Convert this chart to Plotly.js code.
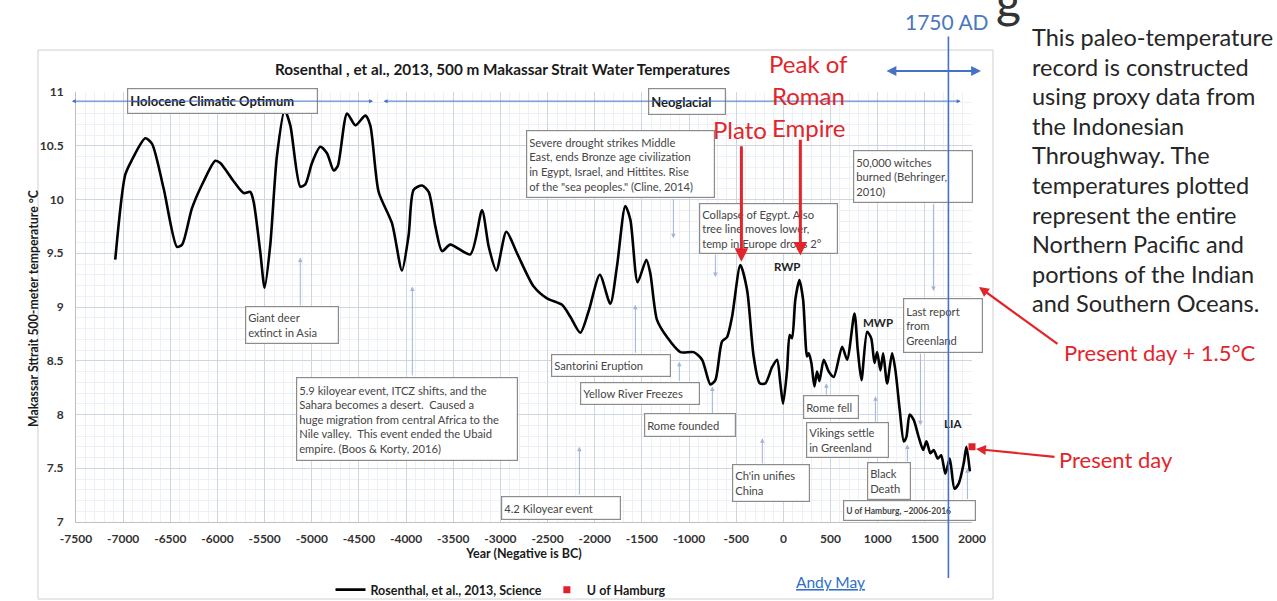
<!DOCTYPE html>
<html>
<head>
<meta charset="utf-8">
<script src="https://cdn.plot.ly/plotly-3.0.1.min.js"></script>
<style>html,body{margin:0;padding:0;background:#fff;}#chart{width:1277px;height:601px;}</style>
</head>
<body>
<div id="chart"></div>
<script>
// ---------------- DATA ----------------
const years = [-7084,-6978,-6906,-6766,-6695,-6570,-6429,-6375,-6270,-6146,-6023,-5970,-5829,-5723,-5652,-5617,-5546,-5500,-5440,-5369,-5287,-5228,-5122,-5069,-4998,-4910,-4839,-4768,-4725,-4626,-4538,-4432,-4380,-4291,-4150,-4044,-3973,-3920,-3832,-3761,-3690,-3619,-3531,-3319,-3195,-3124,-3043,-2937,-2824,-2647,-2506,-2347,-2259,-2153,-2065,-1946,-1835,-1764,-1676,-1622,-1545,-1453,-1410,-1340,-1234,-1092,-951,-862,-774,-721,-650,-597,-544,-456,-385,-315,-251,-191,-120,-67,-32,-3,39,67,92,127,170,209,251,269,297,329,357,382,428,481,534,623,676,754,789,828,888,931,966,994,1029,1058,1100,1153,1188,1234,1277,1304,1339,1382,1435,1482,1517,1559,1594,1637,1673,1718,1764,1814,1860,1913,1941,1977];
const temps = [9.44,10.23,10.37,10.57,10.52,10.10,9.56,9.58,9.92,10.17,10.36,10.34,10.17,10.06,10.07,9.98,9.51,9.18,9.58,10.41,10.83,10.69,10.12,10.14,10.34,10.49,10.43,10.27,10.31,10.80,10.69,10.78,10.69,10.07,9.78,9.34,9.67,10.09,10.13,10.07,9.75,9.52,9.58,9.49,9.90,9.56,9.34,9.70,9.50,9.19,9.08,9.02,8.91,8.76,8.96,9.30,9.03,9.38,9.94,9.81,9.23,9.44,9.31,8.88,8.72,8.58,8.58,8.51,8.28,8.32,8.68,8.72,8.91,9.39,9.16,8.54,8.29,8.29,8.44,8.51,8.29,8.10,8.41,8.74,8.71,9.07,9.25,9.07,8.54,8.57,8.48,8.26,8.40,8.31,8.51,8.40,8.35,8.63,8.51,8.94,8.60,8.32,8.77,8.71,8.48,8.58,8.41,8.57,8.29,8.57,8.41,8.04,7.75,7.79,8.00,7.95,7.79,7.67,7.75,7.64,7.67,7.59,7.62,7.45,7.59,7.31,7.36,7.55,7.70,7.47];
const hamburgYears = [2000];
const hamburgTemps = [7.70];
const seriesNames = ['Rosenthal, et al., 2013, Science', 'U of Hamburg'];
const xTickVals = [-7500,-7000,-6500,-6000,-5500,-5000,-4500,-4000,-3500,-3000,-2500,-2000,-1500,-1000,-500,0,500,1000,1500,2000];
const xTickText = ['-7500','-7000','-6500','-6000','-5500','-5000','-4500','-4000','-3500','-3000','-2500','-2000','-1500','-1000','-500','0','500','1000','1500','2000'];
const yTickVals = [7,7.5,8,8.5,9,9.5,10,10.5,11];
const yTickText = ['7','7.5','8','8.5','9','9.5','10','10.5','11'];
const chartTitle = 'Rosenthal , et al., 2013, 500 m Makassar Strait Water Temperatures';
const xTitle = 'Year (Negative is BC)';
const yTitle = 'Makassar Sttrait 500-meter temperature °C';
const sideLines = ['This paleo-temperature','record is constructed','using proxy data from','the Indonesian','Throughway. The','temperatures plotted','represent the entire','Northern Pacific and','portions of the Indian','and Southern Oceans.'];

// ---------------- LAYOUT HELPERS ----------------
const L = 76, R = 972, T = 92, B = 522;
const PX = p => (p - L) / (R - L);
const PY = p => (B - p) / (B - T);
const FONT = 'Lato, "Open Sans", sans-serif';
const RED = '#e2252b', BLUE = '#4472c4', ARW = '#9fb4d6';

const ann = [];
function paperText(px, py, text, font, xanchor, angle) {
  ann.push({xref:'paper', yref:'paper', x:PX(px), y:PY(py), xanchor:xanchor||'center', yanchor:'middle', text:text, showarrow:false, font:font, textangle:angle||0});
}
// event boxes (data coords: year, temperature)
const boxes = [
  {t:'<b>Holocene Climatic Optimum</b>', x:-5944, y:10.92, w:191, h:25, bold:true},
  {t:'<b>Neoglacial</b>', x:-1018, y:10.91, w:78, h:26, bold:true},
  {t:'Severe drought strikes Middle<br>East, ends Bronze age civilization<br>in Egypt, Israel, and Hittites. Rise<br>of the "sea peoples." (Cline, 2014)', x:-1723, y:10.33, w:189, h:67},
  {t:'Collapse of Egypt. Also<br>tree line moves lower,<br>temp in Europe drops 2°', x:-154, y:9.73, w:139, h:50},
  {t:'50,000 witches<br>burned (Behringer,<br>2010)', x:1379, y:10.21, w:120, h:52},
  {t:'Last report<br>from<br>Greenland', x:1697, y:8.83, w:80, h:54},
  {t:'Giant deer<br>extinct in Asia', x:-5207, y:8.83, w:94, h:37},
  {t:'5.9 kiloyear event, ITCZ shifts, and the<br>Sahara becomes a desert.  Caused a<br>huge migration from central Africa to the<br>Nile valley.  This event ended the Ubaid<br>empire. (Boos &amp; Korty, 2016)', x:-3987, y:7.96, w:222, h:83},
  {t:'Santorini Eruption', x:-1824, y:8.46, w:120, h:22},
  {t:'Yellow River Freezes', x:-1516, y:8.20, w:120, h:22},
  {t:'Rome founded', x:-986, y:7.90, w:92, h:23},
  {t:'4.2 Kiloyear event', x:-2354, y:7.13, w:120, h:23},
  {t:'Ch\'in unifies<br>China', x:-127, y:7.36, w:78, h:37},
  {t:'Rome fell', x:509, y:8.07, w:56, h:23},
  {t:'Vikings settle<br>in Greenland', x:684, y:7.76, w:83, h:35},
  {t:'Black<br>Death', x:1124, y:7.38, w:44, h:37},
  {t:'<b>U of Hamburg, ~2006-2016</b>', x:1341, y:7.11, w:133, h:20, small:true}
];
boxes.forEach(b => ann.push({
  xref:'x', yref:'y', x:b.x, y:b.y, xanchor:'center', yanchor:'middle', text:b.t, showarrow:false,
  width:b.w-6, height:b.h-5, align:'left', valign:'middle',
  bordercolor:'#8c8c8c', borderwidth:1.2, borderpad:2, bgcolor:'#ffffff',
  font:{family:FONT, size:b.bold?13:(b.small?8.5:11.2), color:b.bold?'#1a1a1a':'#454545'}
}));
// thin event arrows: [year, tailTemp, headTemp]
const arrows = [[-1166,10.02,9.64],[-721,9.50,9.28],[1591,9.97,9.15],[1453,8.58,7.90],[-5122,9.0,9.46],[-3934,8.35,9.19],[-1569,8.56,9.02],[-1103,8.30,8.49],[-753,8.0,8.26],[-2163,7.24,7.70],[-223,7.53,7.78],[456,8.17,8.29],[976,7.92,8.17],[1315,7.55,7.72],[1951,7.20,7.50]];
arrows.forEach(a => ann.push({xref:'x', yref:'y', axref:'x', ayref:'y', x:a[0], y:a[2], ax:a[0], ay:a[1], text:'', showarrow:true, arrowhead:2, arrowsize:0.9, arrowwidth:1, arrowcolor:ARW}));
// period arrows (Holocene / Neoglacial)
ann.push({xref:'x', yref:'y', axref:'x', ayref:'y', x:-4350, y:10.915, ax:-7560, ay:10.915, text:'', showarrow:true, arrowhead:2, startarrowhead:2, arrowside:'end+start', arrowsize:0.8, arrowwidth:1, arrowcolor:BLUE});
ann.push({xref:'x', yref:'y', axref:'x', ayref:'y', x:1880, y:10.915, ax:-4255, ay:10.915, text:'', showarrow:true, arrowhead:2, startarrowhead:2, arrowside:'end+start', arrowsize:0.8, arrowwidth:1, arrowcolor:BLUE});
// period labels on curve
[['RWP',42,9.38],['MWP',1007,8.86],['LIA',1803,7.92]].forEach(p => ann.push({xref:'x', yref:'y', x:p[1], y:p[2], xanchor:'center', yanchor:'middle', text:'<b>'+p[0]+'</b>', showarrow:false, font:{family:FONT, size:11.5, color:'#222'}}));
// 1750 AD line drawn above boxes
ann.push({xref:'x', yref:'paper', x:1750, y:PY(578), ax:0, ay:-543, text:'', showarrow:true, arrowhead:0, arrowwidth:1.6, arrowcolor:BLUE});
paperText(947, 22, '1750 AD', {family:FONT, size:21, color:'#4a78c0'});
ann.push({xref:'paper', yref:'paper', x:PX(981), y:PY(71), ax:-96, ay:0, text:'', showarrow:true, arrowhead:2, startarrowhead:2, arrowside:'end+start', arrowsize:0.9, arrowwidth:2.2, arrowcolor:BLUE});
// red labels & arrows
[['Peak of',64],['Roman',96],['Empire',127]].forEach(r => paperText(808, r[1], r[0], {family:FONT, size:24, color:RED}));
paperText(740, 130, 'Plato', {family:FONT, size:24, color:RED});
ann.push({xref:'x', yref:'y', axref:'x', ayref:'y', x:-445, y:9.42, ax:-445, ay:10.51, text:'', showarrow:true, arrowhead:2, arrowsize:0.9, arrowwidth:3, arrowcolor:RED});
ann.push({xref:'x', yref:'y', axref:'x', ayref:'y', x:180, y:9.48, ax:180, ay:10.57, text:'', showarrow:true, arrowhead:2, arrowsize:0.9, arrowwidth:3, arrowcolor:RED});
// right-hand text
sideLines.forEach((s,i) => paperText(1030, 37 + i*29.6, s, {family:FONT, size:23.5, color:'#262626'}, 'left'));
paperText(1062, 352, 'Present day + 1.5°C', {family:FONT, size:22, color:RED}, 'left');
paperText(1057, 459, 'Present day', {family:FONT, size:22, color:RED}, 'left');
ann.push({xref:'paper', yref:'paper', x:PX(979), y:PY(287), ax:80, ay:58, text:'', showarrow:true, arrowhead:2, arrowsize:0.9, arrowwidth:2.2, arrowcolor:RED});
ann.push({xref:'paper', yref:'paper', x:PX(976), y:PY(449), ax:80, ay:8, text:'', showarrow:true, arrowhead:2, arrowsize:0.9, arrowwidth:2.2, arrowcolor:RED});
// chart texts
paperText(502, 69, '<b>'+chartTitle+'</b>', {family:FONT, size:15.3, color:'#1a1a1a'});
paperText(33, 309, '<b>'+yTitle+'</b>', {family:FONT, size:12.3, color:'#1a1a1a'}, 'center', -90);
paperText(830, 582, '<u>Andy May</u>', {family:FONT, size:15.5, color:'#2f6fc8'});
paperText(1008, 0, 'g', {family:FONT, size:48, color:'#333'});

const traces = [
  {x:years, y:temps, name:seriesNames[0], type:'scatter', mode:'lines', line:{color:'#000', width:2.6, shape:'spline', smoothing:0.7}, cliponaxis:false},
  {x:hamburgYears, y:hamburgTemps, name:seriesNames[1], type:'scatter', mode:'markers', marker:{color:'#e0202a', symbol:'square', size:7}, cliponaxis:false}
];

const layout = {
  width:1277, height:601,
  margin:{l:L, r:1277-R, t:T, b:601-B, autoexpand:false},
  paper_bgcolor:'#fff', plot_bgcolor:'#fff',
  font:{family:FONT},
  xaxis:{range:[-7500,2000], tickvals:xTickVals, ticktext:xTickText, showgrid:true, gridcolor:'#cdd7e4', gridwidth:1, zeroline:false,
    showline:true, linecolor:'#bfbfbf', ticks:'', automargin:false, ticklabelstandoff:6, tickfont:{family:FONT, size:12, color:'#333', weight:'bold'},
    minor:{dtick:100, showgrid:true, gridcolor:'#edf1f6', gridwidth:1},
    title:{text:'<b>'+xTitle+'</b>', font:{family:FONT, size:12.5, color:'#1a1a1a'}, standoff:3}},
  yaxis:{range:[7,11], tickvals:yTickVals, ticktext:yTickText, showgrid:true, gridcolor:'#cdd7e4', gridwidth:1, zeroline:false,
    showline:true, linecolor:'#bfbfbf', ticks:'', automargin:false, ticklabelstandoff:9, tickfont:{family:FONT, size:12, color:'#333', weight:'bold'},
    minor:{dtick:0.1, showgrid:true, gridcolor:'#edf1f6', gridwidth:1}},
  showlegend:true,
  legend:{orientation:'h', x:PX(501), xanchor:'center', y:PY(590), yanchor:'middle', font:{family:FONT, size:12.5, color:'#1a1a1a', weight:'bold'}, itemwidth:30, bgcolor:'rgba(0,0,0,0)'},
  shapes:[
    {type:'rect', xref:'paper', yref:'paper', x0:PX(38), x1:PX(993), y0:PY(599), y1:PY(50), line:{color:'#d0d0d0', width:1}, layer:'below'}
  ],
  annotations:ann
};
Plotly.newPlot('chart', traces, layout, {displayModeBar:false, staticPlot:true});
</script>
</body>
</html>
